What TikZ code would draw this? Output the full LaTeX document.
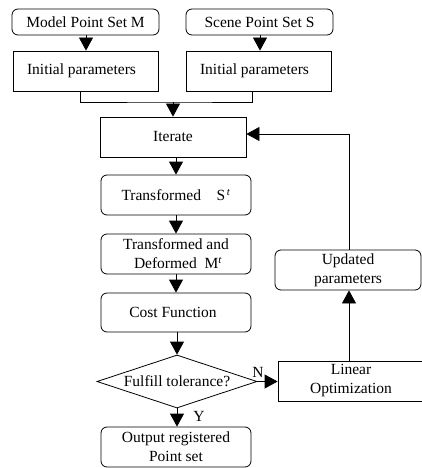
\documentclass[tikz,border=0pt]{standalone}
\usepackage{fontspec}
\setmainfont{Liberation Serif}
\usetikzlibrary{shapes.geometric,arrows.meta}
\begin{document}
\begin{tikzpicture}[x=1pt,y=-1pt,
  font=\fontsize{15.5}{19}\selectfont,
  every path/.style={line width=0.8pt},
  rbox/.style={draw,rounded corners=6pt,minimum width=#1,minimum height=40pt,inner sep=1pt,align=center},
  sbox/.style={draw,minimum width=#1,minimum height=40pt,inner sep=1pt,align=center},
  dia/.style={draw,diamond,aspect=3,minimum width=160pt,minimum height=53pt,inner sep=0pt},
  arr/.style={-{Triangle[width=14pt,length=13pt]}}]
\useasboundingbox (0,0) rectangle (422,468);
\node[rbox=147pt,minimum height=26pt] (m) at (85.5,22) {Model Point Set M};
\node[rbox=147pt,minimum height=26pt] (s) at (259.5,22) {Scene Point Set S};
\node[sbox=145pt] (ip1) at (85.5,71) {Initial parameters\hspace{8pt}};
\node[sbox=145pt] (ip2) at (258.5,71) {Initial parameters\hspace{8pt}};
\node[sbox=146pt] (it) at (173,137) {Iterate};
\node[rbox=150pt] (tr) at (176,195) {Transformed\quad S\textsuperscript{\itshape\,t}};
\node[rbox=150pt] (td) at (176,254) {Transformed and\\ \ Deformed\enspace M\textsuperscript{\itshape t}};
\node[rbox=150pt,minimum height=39pt] (cf) at (176,312.5) {Cost Function\hspace{6pt}};
\node[dia] (d) at (177,381.5) {Fulfill tolerance?\hspace{8pt}};
\node[sbox=146pt] (lo) at (351,381) {Linear\\Optimization};
\node[rbox=146pt] (up) at (348,270) {Updated\\parameters};
\node[rbox=150pt] (out) at (176,447) {Output registered\\Point set};
\coordinate (j) at (173,102);
\coordinate (j1) at (80,0);
\coordinate (j2) at (252,0);
\coordinate (fb) at (349,134);
\draw[arr] (m.south -| 86,0) -- (ip1.north -| 86,0);
\draw[arr] (s.south -| 260,0) -- (ip2.north -| 260,0);
\draw (ip1.south -| j1) |- (j) -| (ip2.south -| j2);
\draw[arr] (j) -- (it.north);
\draw[arr] (it.south -| tr.north) -- (tr.north);
\draw[arr] (tr) -- (td);
\draw[arr] (td) -- (cf);
\draw[arr] (cf.south -| d.north) -- (d.north);
\draw[arr] (d.south) -- (out.north -| d.south);
\draw[arr] (d.east) -- (lo.west |- d.east);
\draw[arr] (lo.north -| fb) -- (up.south -| fb);
\draw[arr] (up.north -| fb) -- (fb) -- (it.east |- fb);
\node[inner sep=0pt] (nl) at (258,372) {N};
\node[inner sep=0pt] (yl) at (199,416) {Y};
\end{tikzpicture}
\end{document}
